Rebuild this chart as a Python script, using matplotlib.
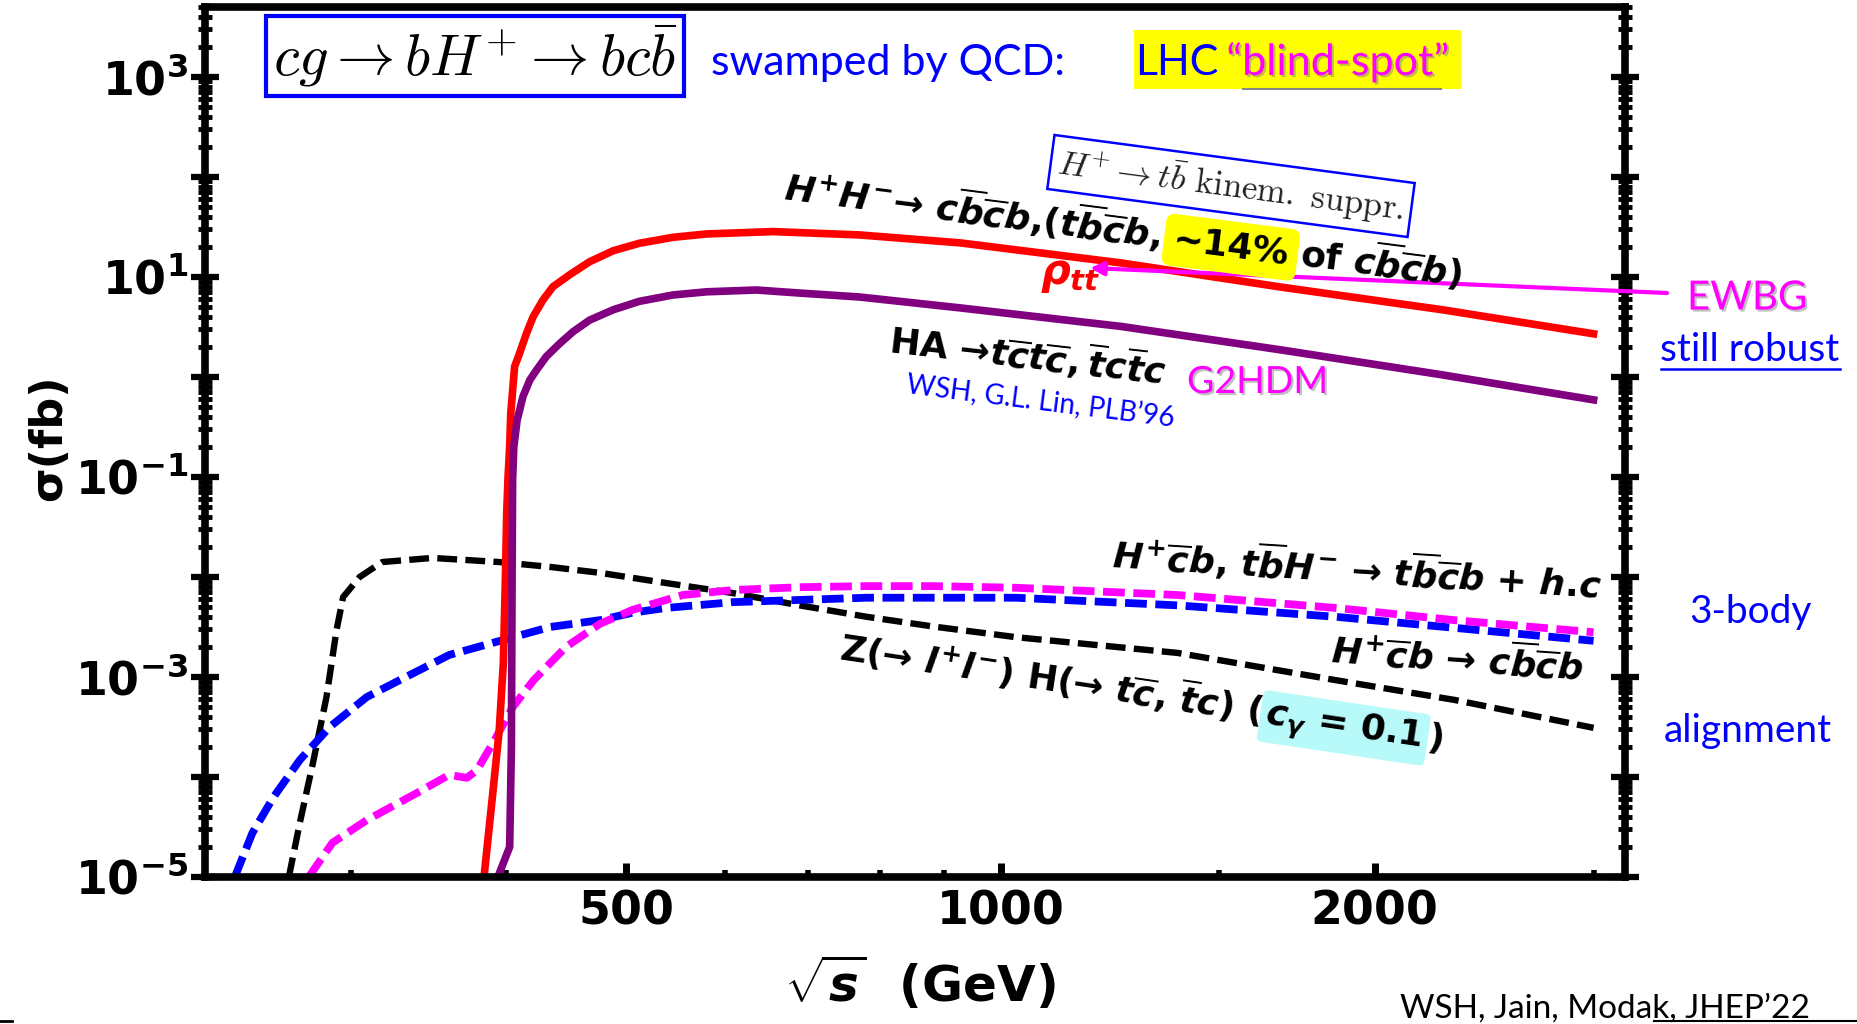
import numpy as np
import matplotlib
matplotlib.use('Agg')
import matplotlib.pyplot as plt
import matplotlib.patheffects as pe
from matplotlib.patches import Rectangle, FancyArrowPatch
from matplotlib.lines import Line2D
from matplotlib.ticker import LogLocator, NullFormatter

W, H = 1857, 1024
ARROW = '\u2192'

# sqrt(s) in GeV, sigma in fb
hh_x = [384, 390, 395, 398, 399.5, 400.5, 401.5, 402.7, 403.5, 406.4, 410.2, 415.5,
        420.6, 428.4, 436.4, 450, 467, 488, 512, 545, 580, 656, 770, 928, 1250,
        1683, 2266, 3000]
hh_sigma = [1.0e-5, 6.3e-5, 2.95e-4, 1.38e-3, 9.3e-3, 4.4e-2, 0.10, 0.20, 0.43,
            1.27, 1.73, 2.74, 4.0, 5.9, 8.0, 10.5, 14.2, 18.3, 21.7, 24.9, 26.9,
            28.4, 26.3, 21.9, 13.8, 7.9, 4.7, 2.7]

ha_x = [394, 402.7, 404.0, 404.5, 404.9, 405.8, 408.3, 412.8, 418, 423.2, 431, 442,
        453, 467, 488, 512, 545, 580, 636, 689, 770, 928, 1250, 1683, 2266, 3000]
ha_sigma = [1.0e-5, 2.0e-5, 2.0e-4, 9.3e-3, 9.3e-2, 0.20, 0.37, 0.64, 0.93, 1.17,
            1.60, 2.17, 2.84, 3.7, 4.7, 5.7, 6.6, 7.1, 7.4, 6.9, 6.3, 4.9, 3.2,
            1.86, 1.05, 0.59]

zh_x = [267.5, 273, 279.7, 286.8, 292.2, 295.8, 305, 318, 349, 395, 434, 476,
        538, 609, 689, 780, 882, 1029, 1388, 1860, 2318, 3000]
zh_sigma = [1.0e-5, 3.5e-5, 1.38e-4, 6.3e-4, 2.95e-3, 6.3e-3, 1.0e-2, 1.41e-2,
            1.55e-2, 1.41e-2, 1.26e-2, 1.10e-2, 8.7e-3, 6.9e-3, 5.2e-3, 4.0e-3,
            3.2e-3, 2.5e-3, 1.74e-3, 9.3e-4, 5.9e-4, 3.1e-4]

hcb_x = [242, 250, 260, 273, 288.5, 309, 328.5, 360, 403, 434, 476, 506, 538,
         609, 780, 1029, 1388, 1860, 2318, 3000]
hcb_sigma = [1.0e-5, 2.75e-5, 6.3e-5, 1.48e-4, 3.16e-4, 6.3e-4, 9.3e-4, 1.66e-3,
             2.45e-3, 3.16e-3, 3.7e-3, 4.4e-3, 4.9e-3, 5.6e-3, 6.2e-3, 6.2e-3,
             5.2e-3, 4.0e-3, 3.1e-3, 2.3e-3]

htb_x = [277.5, 290, 309, 339, 360, 372, 379, 390.5, 405, 421, 447, 476, 506,
         555, 609, 689, 780, 882, 1029, 1388, 1860, 2318, 3000]
htb_sigma = [1.0e-5, 2.2e-5, 3.7e-5, 6.9e-5, 1.05e-4, 9.8e-5, 1.17e-4, 2.2e-4,
             5.0e-4, 9.3e-4, 2.0e-3, 3.4e-3, 4.7e-3, 6.6e-3, 7.4e-3, 7.9e-3,
             8.1e-3, 8.1e-3, 7.8e-3, 6.6e-3, 4.9e-3, 3.7e-3, 2.8e-3]

x_ticks = [500, 1000, 2000]
x_ticklabels = ['500', '1000', '2000']
x_minor = [300, 400, 600, 700, 800, 900, 1500, 3000]
y_ticks = [1e-5, 1e-4, 1e-3, 1e-2, 1e-1, 1e0, 1e1, 1e2, 1e3]
y_ticklabels = [r'$10^{-5}$', '', r'$10^{-3}$', '', r'$10^{-1}$', '',
                r'$10^{1}$', '', r'$10^{3}$']

plt.rcParams['mathtext.fontset'] = 'custom'
plt.rcParams['mathtext.it'] = 'DejaVu Sans:italic:bold'
plt.rcParams['mathtext.rm'] = 'DejaVu Sans:bold'
plt.rcParams['mathtext.bf'] = 'DejaVu Sans:bold'
plt.rcParams['mathtext.sf'] = 'DejaVu Sans:bold'

fig = plt.figure(figsize=(W / 100, H / 100), dpi=100)
ax = fig.add_axes([205 / W, 1 - 877 / H, 1420 / W, 870 / H])

ax.plot(zh_x, zh_sigma, color='black', lw=4.6, dashes=(3.1, 1.3))
ax.plot(hcb_x, hcb_sigma, color='blue', lw=5.6, dashes=(2.8, 1.1))
ax.plot(htb_x, htb_sigma, color='magenta', lw=5.6, dashes=(2.8, 1.1))
ax.plot(hh_x, hh_sigma, color='red', lw=5.5)
ax.plot(ha_x, ha_sigma, color='purple', lw=5.5)

ax.set_xscale('log')
ax.set_yscale('log')
ax.set_xlim(229, 3180)
ax.set_ylim(1e-5, 5e3)

ax.set_xticks(x_ticks)
ax.set_xticklabels(x_ticklabels, fontsize=33, fontweight='bold')
ax.set_xticks(x_minor, minor=True)
ax.xaxis.set_minor_formatter(NullFormatter())
ax.set_yticks(y_ticks)
ax.set_yticklabels(y_ticklabels, fontsize=33)
ax.yaxis.set_minor_locator(LogLocator(base=10, subs=np.arange(2, 10), numticks=100))
ax.yaxis.set_minor_formatter(NullFormatter())

for sp in ax.spines.values():
    sp.set_linewidth(5.5)
ax.tick_params(axis='y', which='major', direction='inout', length=20, width=4.5,
               left=True, right=True, pad=2)
ax.tick_params(axis='y', which='minor', direction='inout', length=10, width=3.5,
               left=True, right=True)
ax.tick_params(axis='x', which='major', direction='in', length=10, width=5,
               top=False, pad=9)
ax.tick_params(axis='x', which='minor', direction='in', length=5, width=4, top=False)


def put(x, y, s, **kw):
    return fig.text(x / W, 1 - y / H, s, **kw)


def chain(x, y, angle, pieces, **common):
    # lay pieces of text one after the other along a rotated baseline
    r = fig.canvas.get_renderer()
    c, sn = np.cos(np.deg2rad(angle)), np.sin(np.deg2rad(angle))
    d = 0.0
    for s, kw, gap in pieces:
        opts = dict(common)
        opts.update(kw)
        put(x + d * c, y - d * sn, s, rotation=angle, rotation_mode='anchor',
            ha='left', va='baseline', **opts)
        probe = fig.text(0, 0, s, **{k: v for k, v in opts.items() if k != 'bbox'})
        d += probe.get_window_extent(r).width + gap
        probe.remove()


shadow = [pe.withSimplePatchShadow(offset=(1.5, -1.5), shadow_rgbFace='gray', alpha=0.5)]
lab = dict(fontsize=26, fontweight='bold', family='DejaVu Sans', color='black')

# header
put(475, 56, r'$cg \to bH^{+} \to bc\bar{b}$', math_fontfamily='cm', fontsize=42,
    ha='center', va='center',
    bbox=dict(boxstyle='square,pad=0.12', fc='white', ec='blue', lw=3))
put(711, 75, 'swamped by QCD:', family='Lato', fontsize=31, color='blue', va='baseline')
fig.add_artist(Rectangle((1134 / W, 1 - 89 / H), 327 / W, 59 / H,
                         transform=fig.transFigure, fc='yellow', ec='none', zorder=1))
chain(1135, 75, 0, [('LHC', dict(color='blue'), 8),
                    ('\u201cblind-spot\u201d', dict(color='magenta', path_effects=shadow), 0)],
      family='Lato', fontsize=31)
fig.add_artist(Line2D([1243 / W, 1441 / W], [1 - 89 / H] * 2, color='#888888', lw=1.5,
                      transform=fig.transFigure))

# H+H- curve labels
put(1231, 186, r'$H^{+}\to t\bar{b}\ \mathrm{kinem.\ suppr.}$', math_fontfamily='cm',
    fontsize=25, rotation=-7.6, rotation_mode='anchor', ha='center', va='center',
    color='#222222', bbox=dict(boxstyle='square,pad=0.2', fc='white', ec='blue', lw=1.8))
chain(783, 200, -7.3, [
    (r'$H^{+}H^{-}$' + ARROW + r' $c\overline{b}\overline{c}b$,($t\overline{b}\overline{c}b$,', {}, 12),
    ('~14%', dict(bbox=dict(boxstyle='round,pad=0.25', fc='yellow', ec='none')), 12),
    (r'of $c\overline{b}\overline{c}b$)', {}, 0)], **lab)
put(1040, 284, r'$\rho_{tt}$', fontsize=30, color='red', va='baseline')
fig.add_artist(FancyArrowPatch((1667 / W, 1 - 293 / H), (1090 / W, 1 - 268 / H),
                               transform=fig.transFigure, arrowstyle='-|>',
                               mutation_scale=20, color='magenta', lw=3,
                               shrinkA=0, shrinkB=0))
put(1747, 298, 'EWBG', family='Lato', fontsize=29, color='magenta', ha='center',
    va='center', path_effects=shadow)
put(1750, 350, 'still robust', family='Lato', fontsize=28, color='blue', ha='center',
    va='center')
fig.add_artist(Line2D([1661 / W, 1840 / W], [1 - 369 / H] * 2, color='blue', lw=1.8,
                      transform=fig.transFigure))

chain(888, 353, -6.5,
      [('HA ' + ARROW + r'$t\overline{c}t\overline{c},\overline{t}c\overline{t}c$', {}, 0)], **lab)
put(1187, 393, 'G2HDM', family='Lato', fontsize=27, color='magenta', va='baseline',
    path_effects=shadow)
chain(905, 393, -7.2, [('WSH, G.L. Lin, PLB\u201996', {}, 0)], family='Lato',
      fontsize=20, color='blue')

# 3-body labels
chain(1111, 568, -3.6,
      [(r'$H^{+}\overline{c}b$, $t\overline{b}H^{-}$ ' + ARROW +
        r' $t\overline{b}\overline{c}b$ + $h$.$c$', {}, 0)], **lab)
chain(1330, 663, -4,
      [(r'$H^{+}\overline{c}b$ ' + ARROW + r' $c\overline{b}\overline{c}b$', {}, 0)], **lab)
chain(838, 660, -8.5, [
    ('Z(' + ARROW + r' $l^{+}l^{-}$) H(' + ARROW + r' $t\overline{c}$, $\overline{t}c$) (', {}, 4),
    (r'$c_{\gamma}$ = 0.1', dict(bbox=dict(boxstyle='round,pad=0.15', fc='#b8fafa', ec='none')), 5),
    (')', {}, 0)], **lab)
put(1750, 612, '3-body', family='Lato', fontsize=28, color='blue', ha='center', va='center')
put(1748, 731, 'alignment', family='Lato', fontsize=28, color='blue', ha='center', va='center')

# axis titles and credits
put(49, 438, '\u03c3(fb)', rotation=90, fontsize=32, fontweight='bold', ha='center',
    va='center')
put(920, 982, r'$\sqrt{s}$  (GeV)', fontsize=36, fontweight='bold', ha='center',
    va='center')
put(1400, 1018, 'WSH, Jain, Modak, JHEP\u201922', family='Lato', fontsize=24,
    color='black', va='baseline')
fig.add_artist(Line2D([1654 / W, 1.0], [1 - 1021 / H] * 2, color='black', lw=1.5,
                      transform=fig.transFigure))
fig.add_artist(Line2D([0, 12 / W], [1 - 1021 / H] * 2, color='black', lw=2,
                      transform=fig.transFigure))

fig.savefig('out.png', dpi=100)
